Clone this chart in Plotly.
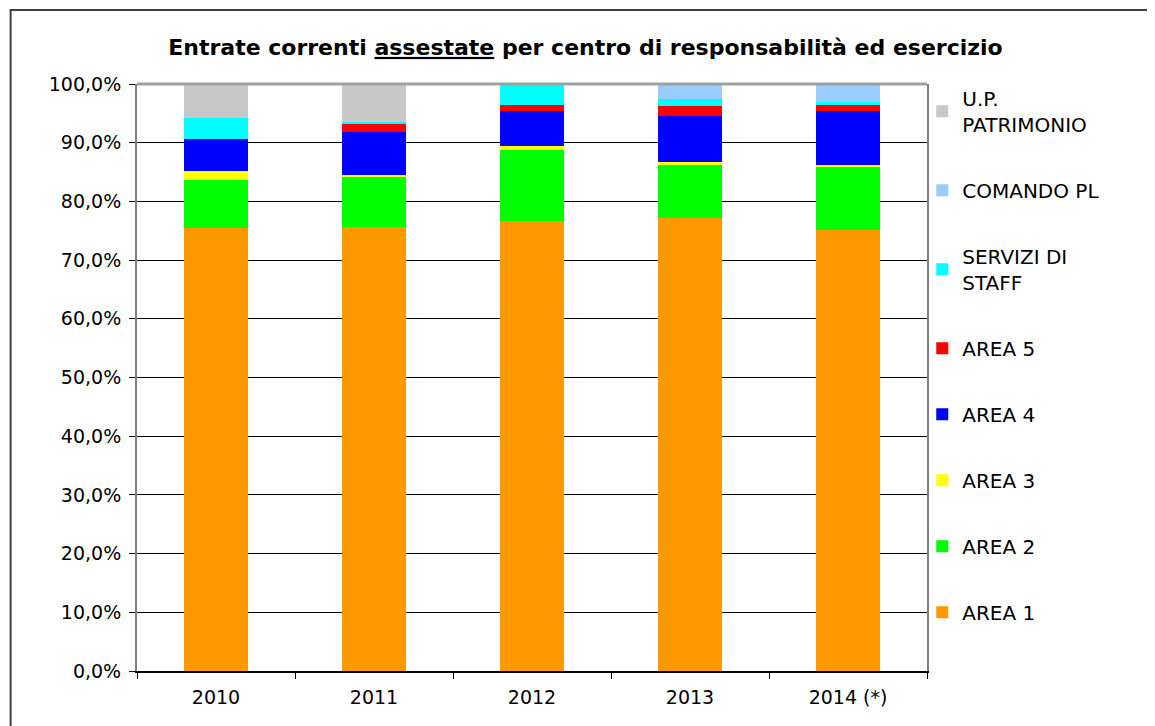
import plotly.graph_objects as go

anni = ["2010", "2011", "2012", "2013", "2014 (*)"]

# quote percentuali per centro di responsabilita'
area1 = [75.5, 75.7, 76.7, 77.2, 75.2]
area2 = [8.1, 8.5, 12.1, 9.0, 10.7]
area3 = [1.6, 0.3, 0.6, 0.5, 0.3]
area4 = [5.4, 7.3, 6.0, 7.8, 9.2]
area5 = [0.0, 1.5, 1.0, 1.8, 1.0]
staff = [3.6, 0.2, 3.6, 1.1, 0.5]
comando_pl = [0.0, 0.0, 0.0, 2.6, 3.1]
patrimonio = [5.8, 6.5, 0.0, 0.0, 0.0]

serie = [
    ("AREA 1", area1, "#FF9900"),
    ("AREA 2", area2, "#00FF00"),
    ("AREA 3", area3, "#FFFF00"),
    ("AREA 4", area4, "#0000FF"),
    ("AREA 5", area5, "#FF0000"),
    ("SERVIZI DI<br>STAFF", staff, "#00FFFF"),
    ("COMANDO PL", comando_pl, "#99CCFF"),
    ("U.P.<br>PATRIMONIO", patrimonio, "#C8C8C8"),
]

fig = go.Figure()
for i, (nome, valori, colore) in enumerate(serie):
    fig.add_trace(go.Bar(x=anni, y=valori, name=nome, marker_color=colore,
                         marker_line_width=0, legendgroup=str(i),
                         legendrank=100 - i))

fig.update_layout(
    width=1155, height=726,
    barmode="stack", bargap=0.595,
    separators=",.",
    font=dict(family="DejaVu Sans", size=19, color="black"),
    title=dict(text="<b>Entrate correnti <u>assestate</u> per centro di responsabilità ed esercizio</b>",
               x=0.5, xanchor="center", y=0.946, yanchor="middle",
               font=dict(size=22)),
    margin=dict(l=129, r=236, t=76, b=63),
    plot_bgcolor="white", paper_bgcolor="white",
    legend=dict(x=0.994, xanchor="left", y=0.538, yanchor="middle",
                traceorder="grouped", tracegroupgap=37,
                bgcolor="rgba(0,0,0,0)", font=dict(size=20)),
    showlegend=True,
)

fig.update_yaxes(range=[0, 100], dtick=10, tickformat=".1f", ticksuffix="%",
                 showgrid=True, gridcolor="black", gridwidth=1,
                 showline=True, linecolor="#808080", linewidth=2, mirror=True,
                 ticks="outside", ticklen=6, tickcolor="black", zeroline=False,
                 ticklabelstandoff=4)
fig.update_xaxes(showline=True, linecolor="black", linewidth=2,
                 ticks="outside", ticklen=6, tickcolor="black",
                 tickson="boundaries", ticklabelstandoff=8)

# bordo superiore area grafico e cornice esterna
fig.add_shape(type="line", xref="paper", yref="paper", x0=0, x1=1, y0=1, y1=1,
              line=dict(color="#A0A0A0", width=3))
fig.add_shape(type="rect", xref="paper", yref="paper",
              x0=-0.16, x1=1.3, y0=-0.15, y1=1.126,
              line=dict(color="#404040", width=2))

fig.write_html("out.html")
